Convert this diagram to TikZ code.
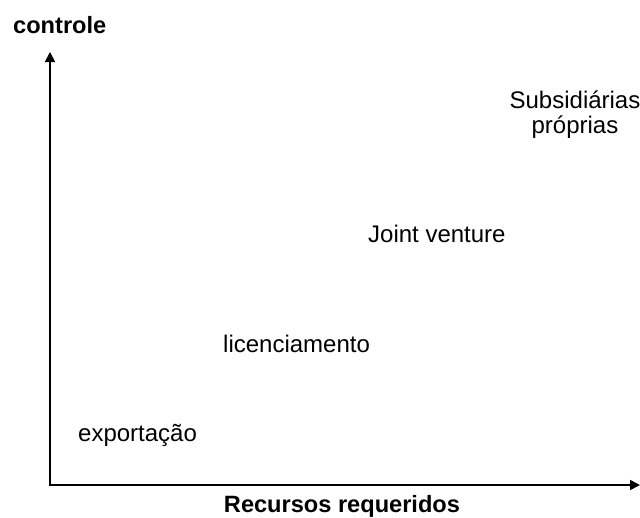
\documentclass[tikz,border=0pt]{standalone}
\usepackage{fontspec}
\setmainfont{Liberation Sans}
\usepackage{tikz}
\usetikzlibrary{arrows.meta, positioning}

\begin{document}
\begin{tikzpicture}[x=1pt,y=1pt,>={Triangle[length=10pt,width=10pt]},
        axis/.style={line width=1.6pt,line join=miter},
        modo/.style={inner sep=0pt,font=\fontsize{24}{25}\selectfont},
        titulo/.style={inner sep=0pt,font=\fontsize{23.6}{26}\selectfont\bfseries}]

      \useasboundingbox (0,0) rectangle (640,-517);

      \coordinate (o)   at (50,-485);
      \coordinate (y_1) at (50,-52);
      \coordinate (x_1) at (640,-485);

      \draw[axis,<->] (y_1) -- (o) -- (x_1);

      \node[titulo,anchor=base west] (ctrl) at (13,-33)  {controle};
      \node[titulo,anchor=base]      (rec)  at (342,-512) {Recursos requeridos};

      \node[modo,anchor=base west] (exp) at (78,-441)  {exportação};
      \node[modo,anchor=base west] (lic) at (223,-352) {licenciamento};
      \node[modo,anchor=base west] (jv)  at (368,-242) {Joint venture};
      \node[modo,anchor=base,align=center] (sub) at (575,-133) {Subsidiárias\\próprias};
    \end{tikzpicture}
\end{document}
